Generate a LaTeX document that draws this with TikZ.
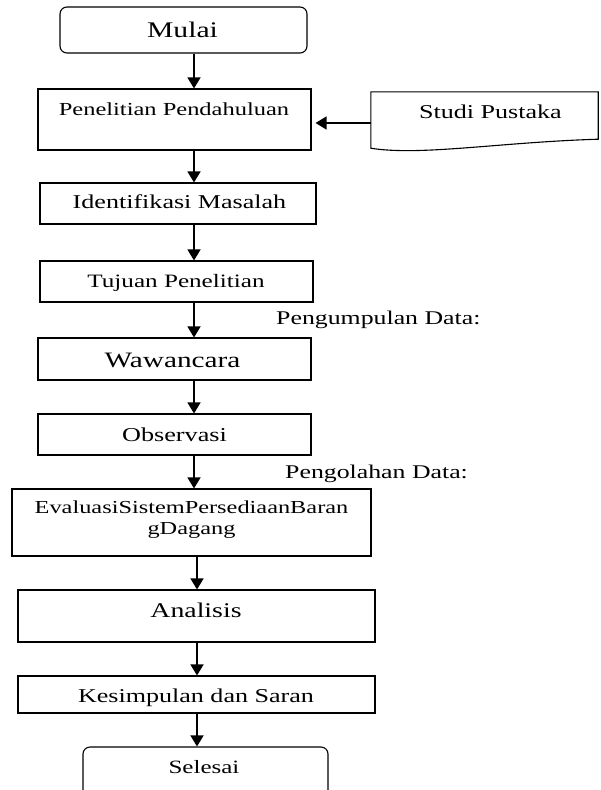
\documentclass[tikz,border=0pt]{standalone}
\usepackage{fontspec}
\setmainfont{Liberation Serif}[FakeStretch=1.33]
\usetikzlibrary{arrows.meta}
\begin{document}
\begin{tikzpicture}[x=1pt,y=-1pt,
  box/.style={draw=black,line width=1.1pt,rectangle,inner sep=0pt},
  term/.style={box,rounded corners=7pt},
  arr/.style={line width=1.4pt,-{Triangle[width=13pt,length=11pt]}},
  txt/.style={inner sep=0pt,anchor=base,text=black},
  lbl/.style={inner sep=0pt,anchor=base west,text=black},
]
\clip (0,0) rectangle (600,790);
\fill[white] (0,0) rectangle (600,790);

% boxes
\node[term, minimum width=247pt, minimum height=46pt] (mulai) at (183.5,30) {};
\node[box, minimum width=273pt, minimum height=61pt] (pen) at (174.5,119.5) {};
\node[inner sep=0pt, minimum width=227pt, minimum height=56pt] (sp) at (484.5,120) {};
\node[box, minimum width=276pt, minimum height=41pt] (idm) at (178,203.5) {};
\node[box, minimum width=273pt, minimum height=41pt] (tuj) at (176.5,281.5) {};
\node[box, minimum width=273pt, minimum height=42pt] (waw) at (174.5,359) {};
\node[box, minimum width=273pt, minimum height=41pt] (obs) at (174.5,434.5) {};
\node[box, minimum width=359pt, minimum height=67pt] (eva) at (191.5,522.5) {};
\node[box, minimum width=357pt, minimum height=52pt] (ana) at (196.5,616) {};
\node[box, minimum width=357pt, minimum height=37pt] (kes) at (196.5,694.5) {};
\node[term, minimum width=245pt, minimum height=58pt] (sel) at (205.5,776) {};

% document shape for Studi Pustaka
\draw[line width=1.1pt] (sp.north west) -- (sp.north east) -- ([yshift=9pt]sp.south east)
  .. controls ([xshift=-98pt,yshift=6pt]sp.south east) and ([xshift=49pt,yshift=-8pt]sp.south west)
  .. (sp.south west) -- cycle;

% texts
\node[txt, font=\fontsize{22.3}{26}\selectfont] (tmulai) at (182.5,37) {Mulai};
\node[txt, font=\fontsize{18.4}{22}\selectfont] (tpen) at (174,115) {Penelitian Pendahuluan};
\node[txt, font=\fontsize{19.6}{23}\selectfont] (tsp) at (490.5,118) {Studi Pustaka};
\node[txt, font=\fontsize{19.6}{23}\selectfont] (tidm) at (179.5,208) {Identifikasi Masalah};
\node[txt, font=\fontsize{18.9}{23}\selectfont] (ttuj) at (176,287) {Tujuan Penelitian};
\node[lbl, font=\fontsize{19.4}{23}\selectfont] (tpd) at (276,324) {Pengumpulan Data:};
\node[txt, font=\fontsize{22}{26}\selectfont] (twaw) at (172.5,367) {Wawancara};
\node[txt, font=\fontsize{19.7}{23}\selectfont] (tobs) at (174.5,441) {Observasi};
\node[lbl, font=\fontsize{19.4}{23}\selectfont] (tpo) at (285,478) {Pengolahan Data:};
\node[txt, align=center, font=\fontsize{18.3}{21}\selectfont] (teva) at (191.5,534) {EvaluasiSistemPersediaanBaran\\gDagang};
\node[txt, font=\fontsize{20.9}{24}\selectfont] (tana) at (196,617) {Analisis};
\node[txt, font=\fontsize{19.6}{23}\selectfont] (tkes) at (196,702) {Kesimpulan dan Saran};
\node[txt, font=\fontsize{18.8}{22}\selectfont] (tsel) at (204,773) {Selesai};

% connectors
\coordinate (ax1) at (194,0);
\coordinate (ax2) at (197,0);
\coordinate (ay) at (0,123);
\draw[arr] (mulai.south -| ax1) -- (pen.north -| ax1);
\draw[arr] (pen.south -| ax1) -- (idm.north -| ax1);
\draw[arr] (idm.south -| ax1) -- (tuj.north -| ax1);
\draw[arr] (tuj.south -| ax1) -- (waw.north -| ax1);
\draw[arr] (waw.south -| ax1) -- (obs.north -| ax1);
\draw[arr] (obs.south -| ax1) -- (eva.north -| ax1);
\draw[arr] (eva.south -| ax2) -- (ana.north -| ax2);
\draw[arr] (ana.south -| ax2) -- (kes.north -| ax2);
\draw[arr] (kes.south -| ax2) -- (sel.north -| ax2);
\draw[arr, shorten >=4pt] (sp.west |- ay) -- (pen.east |- ay);
\end{tikzpicture}
\end{document}
